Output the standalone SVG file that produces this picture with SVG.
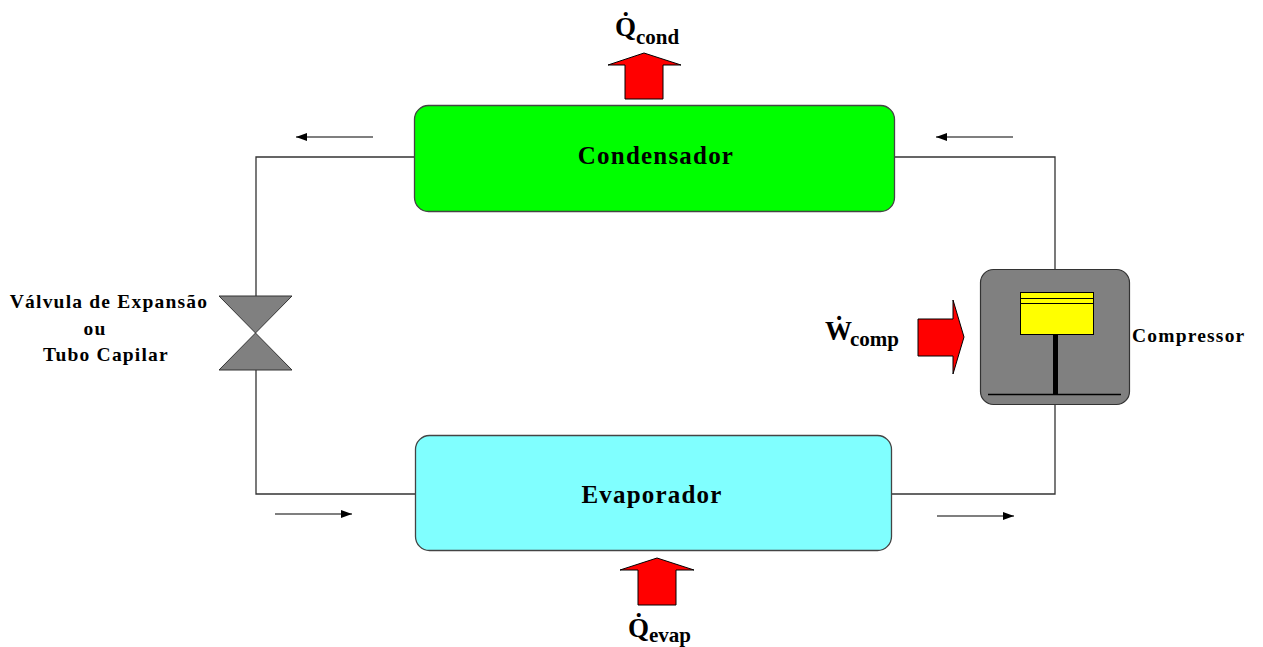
<svg xmlns="http://www.w3.org/2000/svg" width="1263" height="647" viewBox="0 0 1263 647">
<style>
text{font-family:"Liberation Serif","Times New Roman",serif;font-weight:bold;fill:#000}
.lbl{font-size:19.5px;letter-spacing:1.2px}
.big{font-size:25px;letter-spacing:1.2px}
.q{font-size:27px}
.sub{font-size:21px}
.wire{fill:none;stroke:#333;stroke-width:1.3}
.flow{fill:none;stroke:#000;stroke-width:1.2;marker-end:url(#ah)}
.heat{fill:#f00;stroke:#000;stroke-width:1}
.box{stroke:#444;stroke-width:1.3}
</style>
<defs>
<marker id="ah" markerUnits="userSpaceOnUse" markerWidth="11" markerHeight="8" refX="11" refY="4" orient="auto"><path d="M0 0L11 4L0 8Z" fill="#000"/></marker>
</defs>
<rect width="1263" height="647" fill="#fff"/>
<g id="connectors">
<path class="wire" d="M414 157H256V296M256 370V494H416"/>
<path class="wire" d="M895 157H1055V270M1055 404V494H892"/>
<path class="flow" d="M373 137H296"/>
<path class="flow" d="M1013 137H936"/>
<path class="flow" d="M275 514H352"/>
<path class="flow" d="M937 516H1014"/>
</g>
<g id="condensador">
<rect class="box" x="414.500" y="105.500" width="480" height="106" rx="14" fill="#0f0"/>
<text class="big" x="656" y="164" text-anchor="middle">Condensador</text>
</g>
<g id="evaporador">
<rect class="box" x="415.500" y="435.500" width="476" height="115" rx="14" fill="#80ffff"/>
<text class="big" x="652" y="503" text-anchor="middle">Evaporador</text>
</g>
<g id="valvula">
<path d="M219 296H292L219 370H292Z" fill="#808080" stroke="#333" stroke-width="1"/>
<text class="lbl" x="109" y="308" text-anchor="middle">Válvula de Expansão</text>
<text class="lbl" x="95" y="335" text-anchor="middle">ou</text>
<text class="lbl" x="106" y="361" text-anchor="middle">Tubo Capilar</text>
</g>
<g id="compressor">
<rect x="980.500" y="269.500" width="149" height="135" rx="13" fill="#808080" stroke="#333" stroke-width="1.2"/>
<rect x="1020.500" y="292.500" width="73" height="42" fill="#ff0" stroke="#000" stroke-width="1"/>
<path d="M1021 298.500H1093M1021 303.500H1093" stroke="#000" stroke-width="1" fill="none"/>
<path d="M1055.500 335V394" stroke="#000" stroke-width="5" fill="none"/>
<path d="M988 394.500H1121" stroke="#000" stroke-width="1.500" fill="none"/>
<text class="lbl" x="1132" y="342">Compressor</text>
</g>
<g id="q-cond">
<path class="heat" d="M625 99V65H608L644 53L681 65H663V99Z"/>
<text class="q" x="615" y="36">Q̇</text>
<text class="sub" x="636" y="44">cond</text>
</g>
<g id="q-evap">
<path class="heat" d="M638 605V570H620L657 558L694 570H676V605Z"/>
<text class="q" x="628" y="637">Q̇</text>
<text class="sub" x="649" y="642">evap</text>
</g>
<g id="w-comp">
<path class="heat" d="M918 356V319H953V300L964 337L953 374V356Z"/>
<text class="q" x="825" y="340">Ẇ</text>
<text class="sub" x="850" y="346">comp</text>
</g>
</svg>
